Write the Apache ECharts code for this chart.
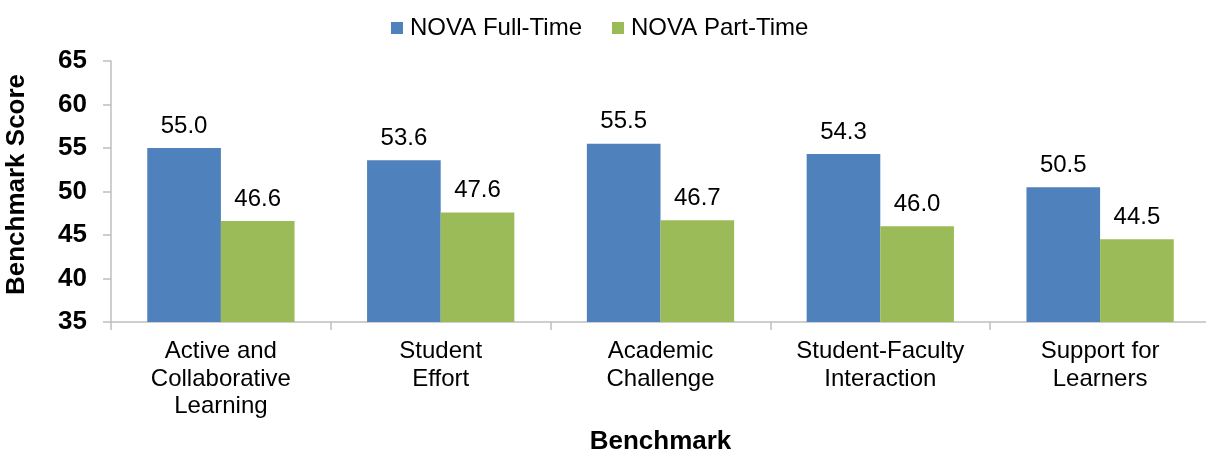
<!DOCTYPE html>
<html>
<head>
<meta charset="utf-8">
<script src="https://cdn.jsdelivr.net/npm/echarts@6/dist/echarts.min.js"></script>
<style>
  html, body { margin: 0; padding: 0; background: #fff; }
  #chart { width: 1206px; height: 456px; }
</style>
</head>
<body>
<div id="chart"></div>
<script>
// Benchmark categories (line breaks as shown under the axis)
const categories = [
  'Active and\nCollaborative\nLearning',
  'Student\nEffort',
  'Academic\nChallenge',
  'Student-Faculty\nInteraction',
  'Support for\nLearners'
];
const fullTime = [55.0, 53.6, 55.5, 54.3, 50.5];
const partTime = [46.6, 47.6, 46.7, 46.0, 44.5];
const seriesNames = ['NOVA Full-Time', 'NOVA Part-Time'];
const yTicks = { min: 35, max: 65, step: 5 };

const FONT = '"Liberation Sans", Arial, sans-serif';
const axisGrey = '#BFBFBF';

const valueLabel = {
  show: true,
  position: 'top',
  distance: 10,
  color: '#000',
  fontFamily: FONT,
  fontSize: 24,
  formatter: p => Number(p.value).toFixed(1)
};

const chart = echarts.init(document.getElementById('chart'));
chart.setOption({
  animation: false,
  textStyle: { fontFamily: FONT, color: '#000' },
  legend: {
    left: 386,
    top: 11,
    itemWidth: 12,
    itemHeight: 12,
    itemGap: 30,
    icon: 'rect',
    textStyle: { fontFamily: FONT, fontSize: 24, color: '#000', padding: [0, 0, 0, 2] },
    data: seriesNames
  },
  grid: {
    left: 111,
    top: 61,
    width: 1099,
    height: 261,
    outerBoundsMode: 'none',
    containLabel: false
  },
  xAxis: {
    type: 'category',
    data: categories,
    name: 'Benchmark',
    nameLocation: 'middle',
    nameGap: 107,
    nameTextStyle: { fontFamily: FONT, fontSize: 26, fontWeight: 'bold', color: '#000' },
    axisLine: { lineStyle: { color: axisGrey, width: 1.5 } },
    axisTick: { show: true, length: 8, alignWithLabel: false, lineStyle: { color: axisGrey, width: 1.5 } },
    axisLabel: {
      fontFamily: FONT, fontSize: 24, color: '#000',
      lineHeight: 27.5, margin: 16, interval: 0
    }
  },
  yAxis: {
    type: 'value',
    min: yTicks.min,
    max: yTicks.max,
    interval: yTicks.step,
    name: 'Benchmark Score',
    nameLocation: 'middle',
    nameGap: 81,
    nameRotate: 90,
    nameTextStyle: { fontFamily: FONT, fontSize: 26, fontWeight: 'bold', color: '#000', padding: [0, 0, 0, 14] },
    splitLine: { show: false },
    axisLine: { show: true, lineStyle: { color: axisGrey, width: 1.5 } },
    axisTick: { show: true, length: 8, lineStyle: { color: axisGrey, width: 1.5 } },
    axisLabel: { fontFamily: FONT, fontSize: 26, fontWeight: 'bold', color: '#000', margin: 24 }
  },
  series: [
    {
      name: seriesNames[0],
      type: 'bar',
      data: fullTime,
      itemStyle: { color: '#4F81BD' },
      barGap: '0%',
      barCategoryGap: '33%',
      label: valueLabel
    },
    {
      name: seriesNames[1],
      type: 'bar',
      data: partTime,
      itemStyle: { color: '#9BBB59' },
      barGap: '0%',
      barCategoryGap: '33%',
      label: valueLabel
    }
  ]
});
</script>
</body>
</html>
